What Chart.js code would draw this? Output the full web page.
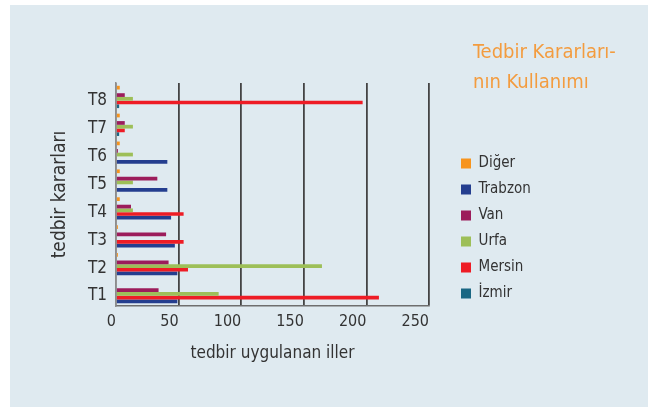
<!DOCTYPE html>
<html><head><meta charset="utf-8">
<script src="https://cdn.jsdelivr.net/npm/chart.js@4"></script>
<style>
html,body{margin:0;padding:0;background:#fff;width:648px;height:407px;overflow:hidden}
#panel{position:absolute;left:10px;top:5px;width:638px;height:402px;background:#dfeaf0}
#c{position:absolute;left:0;top:0}
#title{position:absolute;left:463px;top:31px;color:#f39c3f;font-family:"Liberation Sans Narrow","DejaVu Sans Condensed",sans-serif;font-size:20px;line-height:30px;white-space:nowrap}
</style></head>
<body>
<div id="panel">
<canvas id="c" width="638" height="402"></canvas>
<div id="title">Tedbir Kararları-<br>nın Kullanımı</div>
</div>
<script>
const categories = ['T1','T2','T3','T4','T5','T6','T7','T8'];
const xTicks = [0, 50, 100, 150, 200, 250];
const diger   = [0, 1.5, 1.5, 3, 3, 3, 3, 3];
const trabzon = [49, 49, 47, 44, 41, 41, 0, 0];
const van     = [34, 42, 40, 12, 33, 1.5, 7, 7];
const urfa    = [82, 164.5, 0, 13.5, 13.5, 13.5, 13.5, 13.5];
const mersin  = [210, 57.5, 54, 54, 0, 0, 7, 197];
const izmir   = [0, 0, 0, 0, 0, 0, 2.5, 2.5];
const spacer  = [0, 0, 0, 0, 0, 0, 0, 0];
const legendOrder = ['Diğer','Trabzon','Van','Urfa','Mersin','İzmir'];

const FONT = '"Liberation Sans Narrow","DejaVu Sans Condensed",sans-serif';
const TXT = '#333333';

const legendPos = {
  id: 'legendPos',
  afterLayout(chart) {
    const l = chart.legend;
    if (!l) return;
    const w = l.width, h = l.height;
    l.left = 440; l.right = l.left + w;
    l.top = 140; l.bottom = l.top + h;
  }
};

new Chart(document.getElementById('c'), {
  type: 'bar',
  data: {
    labels: categories,
    datasets: [
      {label:'Diğer', data:diger, backgroundColor:'#f7941d', stack:'a'},
      {label:'_spacer', data:spacer, backgroundColor:'rgba(0,0,0,0)', stack:'b'},
      {label:'Van', data:van, backgroundColor:'#9c1c5b', stack:'c'},
      {label:'Urfa', data:urfa, backgroundColor:'#9dbf58', stack:'d'},
      {label:'Mersin', data:mersin, backgroundColor:'#ee1c25', stack:'e'},
      {label:'İzmir', data:izmir, backgroundColor:'#1a6783', stack:'f'},
      {label:'Trabzon', data:trabzon, backgroundColor:'#243e8f', stack:'f'}
    ]
  },
  options: {
    indexAxis: 'y',
    responsive: false,
    animation: false,
    events: [],
    categoryPercentage: 0.8,
    barPercentage: 1.0,
    layout: { padding: { left: 35, top: 78, right: 219, bottom: 39 } },
    plugins: {
      tooltip: { enabled: false },
      title: { display: false },
      legend: {
        position: 'chartArea',
        align: 'start',
        labels: {
          boxWidth: 10, boxHeight: 10, padding: 11,
          color: TXT, font: { family: FONT, size: 15 },
          filter: (item) => item.text !== '_spacer',
          sort: (a, b) => legendOrder.indexOf(a.text) - legendOrder.indexOf(b.text)
        }
      }
    },
    scales: {
      x: {
        type: 'linear', min: 0, max: 250,
        afterFit: (s) => { s.height = 62; },
        afterBuildTicks: (s) => { s.ticks = xTicks.map(v => ({ value: v })); },
        ticks: { color: TXT, font: { family: FONT, size: 16 }, padding: 6, align: 'end' },
        grid: {
          drawTicks: false,
          color: (ctx) => ctx.index === 0 ? '#8c8c8c' : '#444444',
          lineWidth: 1.8
        },
        border: { display: true, color: '#6e6e6e', width: 1.5 },
        title: { display: true, text: 'tedbir uygulanan iller', color: TXT, font: { family: FONT, size: 17 }, padding: { top: 4, bottom: 4 } }
      },
      y: {
        reverse: true,
        afterFit: (s) => { s.width = 71; },
        ticks: { color: TXT, font: { family: FONT, size: 17 }, padding: 9, labelOffset: 4 },
        grid: { display: false, drawTicks: false },
        border: { display: true, color: '#8c8c8c', width: 1.5 },
        title: { display: true, text: 'tedbir kararları', color: TXT, font: { family: FONT, size: 19 }, padding: { top: 4, bottom: 4 } }
      }
    }
  },
  plugins: [legendPos]
});
</script>
</body></html>
